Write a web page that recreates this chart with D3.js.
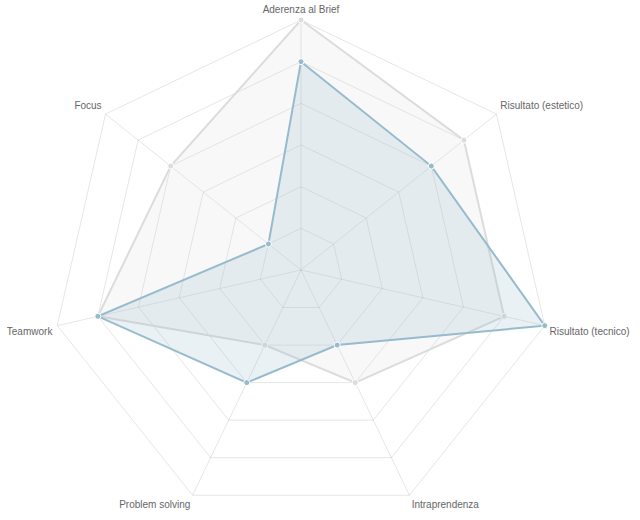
<!DOCTYPE html>
<html>
<head>
<meta charset="utf-8">
<script src="https://cdn.jsdelivr.net/npm/d3@7/dist/d3.min.js"></script>
<style>
  html, body { margin: 0; padding: 0; background: #fff; }
  svg { display: block; }
  .label { font-family: "Liberation Sans", Arial, Helvetica, sans-serif; font-size: 10px; fill: #666; }
</style>
</head>
<body>
<svg id="chart" width="640" height="520"></svg>
<script>
var labels     = ['Aderenza al Brief', 'Risultato (estetico)', 'Risultato (tecnico)', 'Intraprendenza', 'Problem solving', 'Teamwork', 'Focus'];
var seriesGray = [6, 5, 5, 3, 2, 5, 4];
var seriesBlue = [5, 4, 6, 2, 3, 5, 1];
var levels     = [1, 2, 3, 4, 5, 6];

var cx = 301, cy = 270, radius = 250;

var r = d3.scaleLinear().domain([0, 6]).range([0, radius]);
var angle = d3.scaleLinear().domain([0, labels.length]).range([0, 2 * Math.PI]);

function point(i, dist) {
    var a = angle(i);
    return [cx + dist * Math.sin(a), cy - dist * Math.cos(a)];
}

var svg = d3.select('#chart');
var grid = svg.append('g').attr('class', 'grid');

// rings
grid.selectAll('.ring')
    .data(levels)
    .enter().append('polygon')
    .attr('class', 'ring')
    .attr('points', lv => labels.map((l, i) => point(i, r(lv)).join(',')).join(' '))
    .attr('fill', 'none')
    .attr('stroke', 'rgba(0,0,0,0.1)')
    .attr('stroke-width', 1)
;

// angle lines
grid.selectAll('.spoke')
    .data(labels)
    .enter().append('line')
    .attr('class', 'spoke')
    .attr('x1', cx).attr('y1', cy)
    .attr('x2', (l, i) => point(i, r(6))[0])
    .attr('y2', (l, i) => point(i, r(6))[1])
    .attr('stroke', 'rgba(0,0,0,0.1)')
    .attr('stroke-width', 1)
;

// point labels
var quarter = labels.length / 4, half = labels.length / 2;
svg.selectAll('.label')
    .data(labels)
    .enter().append('text')
    .attr('class', 'label')
    .each(function (l, i) {
        var p = point(i, r(6) + 5);
        var upper = i < quarter || i > labels.length - quarter;
        var anchor = (i === 0 || i === half) ? 'middle' : (i < half ? 'start' : 'end');
        d3.select(this)
            .attr('x', p[0])
            .attr('y', upper ? p[1] - 2.5 : p[1] + 8.5)
            .attr('text-anchor', anchor)
            .text(l);
    })
;

var datasets = [
    { values: seriesGray, fill: 'rgba(220,220,220,0.2)', stroke: 'rgba(220,220,220,1)' },
    { values: seriesBlue, fill: 'rgba(151,187,205,0.2)', stroke: 'rgba(151,187,205,1)' }
];

var line = d3.line().curve(d3.curveLinearClosed);

datasets.forEach(function (ds) {
    var g = svg.append('g').attr('class', 'series');
    var pts = ds.values.map((v, i) => point(i, r(v)));

    g.append('path')
        .attr('d', line(pts))
        .attr('fill', ds.fill)
        .attr('stroke', ds.stroke)
        .attr('stroke-width', 2)
        .attr('stroke-linejoin', 'miter')
    ;

    g.selectAll('circle')
        .data(pts)
        .enter().append('circle')
        .attr('cx', p => p[0])
        .attr('cy', p => p[1])
        .attr('r', 3)
        .attr('fill', ds.stroke)
        .attr('stroke', '#fff')
        .attr('stroke-width', 1)
    ;
});
</script>
</body>
</html>
